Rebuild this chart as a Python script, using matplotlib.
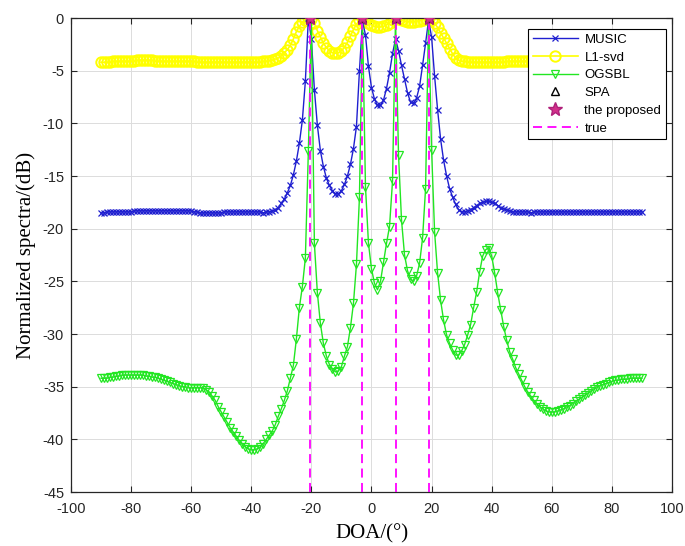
import numpy as np
import matplotlib
matplotlib.use("Agg")
import matplotlib.pyplot as plt

# ---------------- data ----------------
doa_grid = list(range(-90, 91))          # degrees
true_doa = [-20.6, -3.1, 8.2, 19.0]

music = [
    -18.5, -18.5, -18.4, -18.4, -18.4, -18.4, -18.4, -18.4, -18.4, -18.4,
    -18.4, -18.3, -18.3, -18.3, -18.3, -18.3, -18.3, -18.3, -18.3, -18.3,
    -18.3, -18.3, -18.3, -18.3, -18.3, -18.3, -18.3, -18.3, -18.3, -18.3,
    -18.3, -18.4, -18.4, -18.5, -18.5, -18.5, -18.5, -18.5, -18.5, -18.5,
    -18.5, -18.4, -18.4, -18.4, -18.4, -18.4, -18.4, -18.4, -18.4, -18.4,
    -18.4, -18.4, -18.4, -18.4, -18.5, -18.4, -18.4, -18.3, -18.2, -18.0,
    -17.6, -17.2, -16.6, -15.9, -14.9, -13.6, -11.9, -9.7, -6.0, 0.0,
    -2.0, -6.8, -10.2, -12.6, -14.1, -15.2, -15.9, -16.4, -16.7, -16.7,
    -16.4, -15.8, -15.0, -13.9, -12.4, -10.3, -5.0, -0.3, -1.6, -4.6,
    -6.6, -7.7, -8.3, -8.3, -7.8, -6.7, -5.2, -3.4, -2.0, -3.1,
    -4.5, -5.8, -7.1, -8.0, -8.1, -7.6, -6.5, -4.5, -2.4, -0.2,
    -1.8, -5.5, -8.7, -11.5, -13.5, -15.0, -16.2, -17.0, -17.7, -18.2,
    -18.4, -18.4, -18.3, -18.2, -18.0, -17.8, -17.6, -17.5, -17.4, -17.4,
    -17.5, -17.6, -17.8, -18.0, -18.1, -18.2, -18.3, -18.4, -18.4, -18.4,
    -18.4, -18.4, -18.4, -18.5, -18.4, -18.4, -18.4, -18.4, -18.4, -18.4,
    -18.4, -18.4, -18.4, -18.4, -18.4, -18.4, -18.4, -18.4, -18.4, -18.4,
    -18.4, -18.4, -18.4, -18.4, -18.4, -18.4, -18.4, -18.4, -18.4, -18.4,
    -18.4, -18.4, -18.4, -18.4, -18.4, -18.4, -18.4, -18.4, -18.4, -18.4,
    -18.4,
]

l1svd = [
    -4.2, -4.2, -4.2, -4.2, -4.1, -4.1, -4.1, -4.1, -4.1, -4.1,
    -4.1, -4.1, -4.0, -4.0, -4.0, -4.0, -4.0, -4.0, -4.1, -4.1,
    -4.1, -4.1, -4.1, -4.1, -4.1, -4.1, -4.1, -4.1, -4.1, -4.1,
    -4.1, -4.1, -4.2, -4.2, -4.2, -4.2, -4.2, -4.2, -4.2, -4.2,
    -4.2, -4.2, -4.2, -4.2, -4.2, -4.2, -4.2, -4.2, -4.2, -4.2,
    -4.2, -4.2, -4.2, -4.2, -4.1, -4.1, -4.05, -4.0, -3.9, -3.8,
    -3.6, -3.3, -3.0, -2.6, -2.0, -1.3, -0.8, -0.4, -0.15, 0.0,
    -0.1, -0.5, -1.2, -1.8, -2.4, -2.8, -3.1, -3.3, -3.35, -3.3,
    -3.1, -2.8, -2.3, -1.7, -1.1, -0.6, -0.2, 0.0, -0.2, -0.45,
    -0.65, -0.8, -0.85, -0.85, -0.8, -0.65, -0.45, -0.2, 0.0, -0.1,
    -0.2, -0.3, -0.35, -0.35, -0.35, -0.3, -0.25, -0.15, -0.05, 0.0,
    -0.2, -0.5, -0.9, -1.4, -1.9, -2.4, -2.9, -3.4, -3.8, -4.0,
    -4.1, -4.1, -4.2, -4.2, -4.2, -4.2, -4.2, -4.2, -4.2, -4.2,
    -4.2, -4.2, -4.2, -4.2, -4.2, -4.1, -4.1, -4.1, -4.1, -4.1,
    -4.1, -4.1, -4.1, -4.1, -4.1, -4.1, -4.1, -4.1, -4.1, -4.1,
    -4.1, -4.1, -4.1, -4.1, -4.1, -4.1, -4.1, -4.1, -4.2, -4.2,
    -4.2, -4.2, -4.2, -4.2, -4.2, -4.2, -4.2, -4.2, -4.2, -4.2,
    -4.2, -4.2, -4.2, -4.2, -4.2, -4.2, -4.2, -4.2, -4.2, -4.2,
    -4.2,
]

ogsbl = [
    -34.2, -34.2, -34.2, -34.1, -34.1, -34.0, -34.0, -33.9, -33.9, -33.9,
    -33.9, -33.9, -33.9, -33.9, -33.9, -34.0, -34.0, -34.1, -34.1, -34.2,
    -34.3, -34.4, -34.5, -34.6, -34.7, -34.8, -34.9, -35.0, -35.0, -35.1,
    -35.1, -35.1, -35.1, -35.1, -35.1, -35.3, -35.5, -35.9, -36.3, -36.9,
    -37.4, -37.9, -38.4, -38.9, -39.3, -39.7, -40.1, -40.4, -40.7, -40.9,
    -41.0, -41.0, -40.9, -40.7, -40.4, -40.0, -39.6, -39.2, -38.6, -37.8,
    -37.1, -36.3, -35.4, -34.2, -33.0, -30.5, -27.5, -25.5, -22.8, -12.6,
    0.0, -21.4, -26.1, -29.0, -30.9, -32.1, -32.9, -33.3, -33.6, -33.5,
    -33.1, -32.1, -31.2, -29.4, -27.1, -23.4, -17.0, 0.0, -16.0, -21.4,
    -23.8, -25.2, -25.8, -25.0, -23.2, -21.4, -19.8, -15.5, 0.0, -13.0,
    -19.2, -22.5, -24.0, -24.8, -25.0, -24.5, -23.3, -20.9, -16.2, 0.0,
    -12.5, -20.3, -24.2, -26.8, -28.7, -30.1, -30.9, -31.5, -32.0, -32.0,
    -31.6, -31.0, -30.1, -29.1, -27.5, -26.0, -24.1, -22.6, -22.0, -21.8,
    -22.6, -24.2, -26.1, -27.7, -29.3, -30.6, -31.7, -32.4, -33.2, -33.8,
    -34.4, -35.0, -35.5, -35.9, -36.3, -36.6, -36.9, -37.1, -37.3, -37.4,
    -37.4, -37.4, -37.3, -37.2, -37.1, -36.9, -36.8, -36.6, -36.4, -36.2,
    -36.0, -35.8, -35.6, -35.4, -35.2, -35.0, -34.9, -34.8, -34.7, -34.6,
    -34.5, -34.4, -34.4, -34.3, -34.3, -34.3, -34.2, -34.2, -34.2, -34.2,
    -34.2,
]

spa_peaks = [0.0, 0.0, 0.0, 0.0]
proposed_peaks = [0.0, 0.0, 0.0, 0.0]

x_ticks = [-100, -80, -60, -40, -20, 0, 20, 40, 60, 80, 100]
y_ticks = [0, -5, -10, -15, -20, -25, -30, -35, -40, -45]

# ---------------- figure ----------------
plt.rcParams['font.family'] = ['Liberation Sans', 'DejaVu Sans']
plt.rcParams['axes.unicode_minus'] = False
fig = plt.figure(figsize=(6.85, 5.46), dpi=100)
ax = fig.add_axes([0.1036, 0.0989, 0.8774, 0.8681])

ax.plot(doa_grid, music, color='#1f1fd0', marker='x', markersize=4.5,
        markeredgewidth=0.9, linewidth=1.0, label='MUSIC', zorder=3)
ax.plot(doa_grid, l1svd, color='#ffff00', marker='o', markersize=7.5,
        markerfacecolor='none', markeredgewidth=1.4, linewidth=1.2,
        label='L1-svd', zorder=2)
ax.plot(doa_grid, ogsbl, color='#22e622', marker='v', markersize=6,
        markerfacecolor='none', markeredgewidth=0.9, linewidth=1.0,
        label='OGSBL', zorder=3)
ax.plot(true_doa, spa_peaks, linestyle='none', marker='^', markersize=6,
        markerfacecolor='none', markeredgecolor='black', markeredgewidth=1.0,
        label='SPA', zorder=5)
ax.plot(true_doa, proposed_peaks, linestyle='none', marker='*', markersize=10,
        color='#d2308a', markeredgecolor='#b0207a', label='the proposed',
        zorder=6)
for i, d in enumerate(true_doa):
    ax.plot([d, d], [-45, 0], color='#ff00ff', linestyle=(0, (5, 3)),
            linewidth=1.3, label='true' if i == 0 else None, zorder=4)

ax.set_xlim(-100, 100)
ax.set_ylim(-45, 0)
ax.set_xticks(x_ticks)
ax.set_yticks(y_ticks)
ax.tick_params(direction='in', top=True, right=True, length=4,
               labelsize=10.5, colors='#262626', width=0.8)
ax.tick_params(axis='x', pad=7)
ax.tick_params(axis='y', pad=5)
ax.grid(True, color='#dcdcdc', linewidth=0.7)
ax.set_axisbelow(True)
for s in ax.spines.values():
    s.set_color('#262626')
    s.set_linewidth(0.9)

ax.set_xlabel('DOA/(°)', family=['Liberation Serif', 'DejaVu Serif'],
              fontsize=15, labelpad=6)
ax.set_ylabel('Normalized spectra/(dB)', family=['Liberation Serif', 'DejaVu Serif'],
              fontsize=15, labelpad=5)

leg = ax.legend(loc='upper right', bbox_to_anchor=(0.99, 0.977),
                borderaxespad=0.0,
                fontsize=9.5, frameon=True, fancybox=False, edgecolor='black',
                framealpha=1, handlelength=3.4, borderpad=0.35,
                labelspacing=0.42, handletextpad=0.5)
leg.get_frame().set_linewidth(0.8)

fig.savefig('out.png', dpi=100)
